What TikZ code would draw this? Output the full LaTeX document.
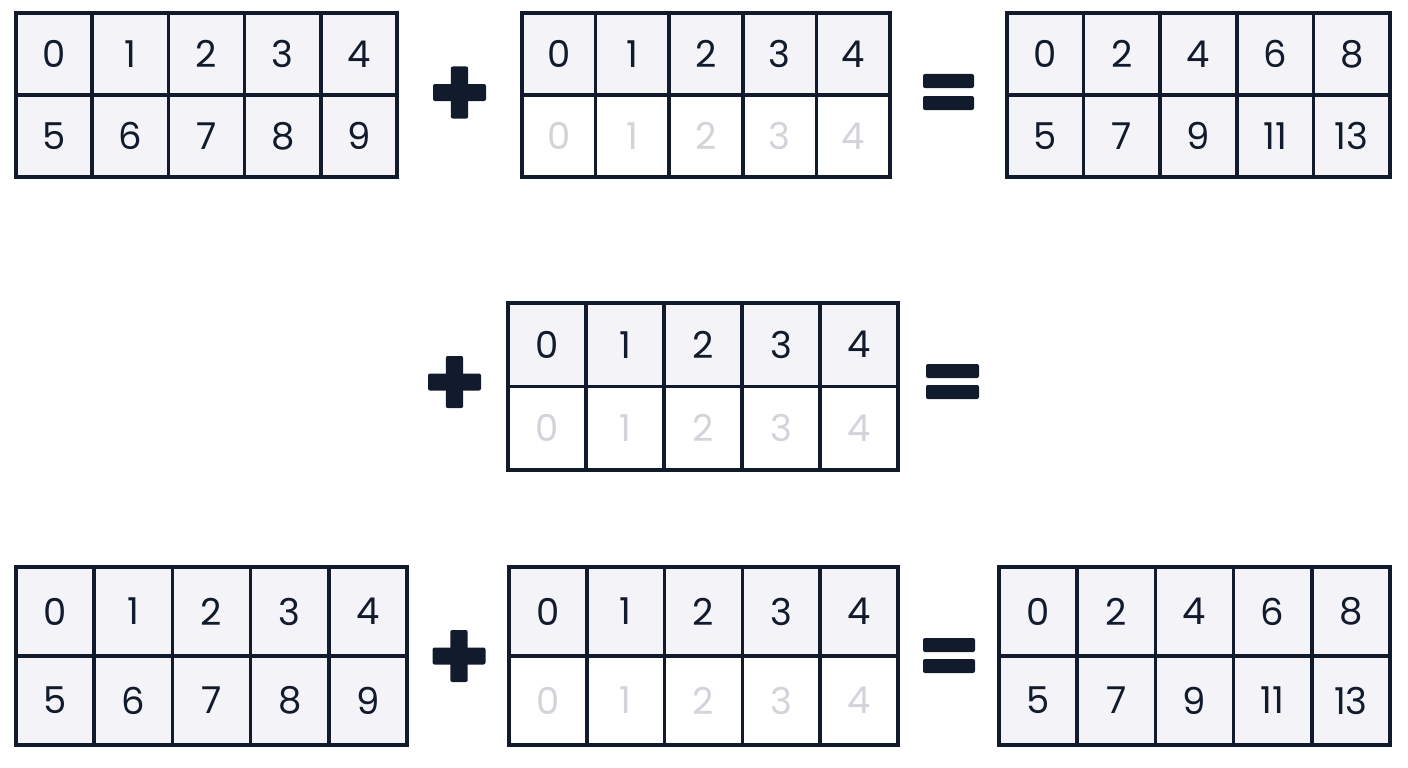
\documentclass[tikz,border=0pt]{standalone}
\usepackage{fontspec}
\setmainfont{Poppins}
\definecolor{inkcol}{HTML}{111B2B}
\definecolor{cellfill}{HTML}{F3F3F8}
\definecolor{faintcol}{HTML}{D3D3DA}
\tikzset{
  gridline/.style={draw=inkcol, line width=3.6pt, line join=miter},
  digit/.style={inner sep=0pt, font=\fontsize{37}{40}\selectfont},
  opfill/.style={fill=inkcol, rounded corners=2pt},
}
\newcommand{\numgrid}[9]{%
  \pgfmathsetmacro{\cw}{(#4-#2)/5}%
  \pgfmathsetmacro{\ym}{(#3+#5)/2}%
  \pgfmathsetmacro{\yt}{(#3+\ym)/2}%
  \pgfmathsetmacro{\yb}{(#5+\ym)/2}%
  \fill[cellfill] (#2,#3) rectangle (#4,\ym);
  \fill[#8] (#2,\ym) rectangle (#4,#5);
  \foreach \v [count=\i from 0] in {#6} {
    \node[digit, text=inkcol] (#1-t\i) at ({#2+(\i+0.5)*\cw},\yt) {\v};
  }
  \foreach \v [count=\i from 0] in {#7} {
    \node[digit, text=#9] (#1-b\i) at ({#2+(\i+0.5)*\cw},\yb) {\v};
  }
  \draw[gridline] (#2,\ym) -- (#4,\ym);
  \foreach \k in {1,...,4} {
    \draw[gridline] ({#2+\k*\cw},#3) -- ({#2+\k*\cw},#5);
  }
  \draw[gridline] (#2,#3) rectangle (#4,#5);
}
\newcommand{\plussign}[3]{%
  \coordinate (#1) at (#2,#3);
  \fill[opfill] ({#2-26.5},{#3-8.5}) rectangle ({#2+26.5},{#3+8.5});
  \fill[opfill] ({#2-8.7},{#3-26}) rectangle ({#2+8.7},{#3+26});
}
\newcommand{\equalsign}[5]{% name x0 x1 ytop-of-upper ytop-of-lower
  \coordinate (#1) at ({(#2+#3)/2},#4);
  \fill[opfill] (#2,#4) rectangle (#3,{#4+14});
  \fill[opfill] (#2,#5) rectangle (#3,{#5+14});
}
\begin{document}
\begin{tikzpicture}[x=1pt,y=-1pt]
\useasboundingbox (0,0) rectangle (1408,768);
\fill[white] (0,0) rectangle (1408,768);
% top row
\numgrid{A}{16}{13}{397}{177}{0,1,2,3,4}{5,6,7,8,9}{cellfill}{inkcol}
\plussign{plusA}{459.5}{92.5}
\numgrid{B}{522}{13}{890}{177}{0,1,2,3,4}{0,1,2,3,4}{white}{faintcol}
\equalsign{eqA}{923}{974}{74}{96}
\numgrid{C}{1007}{13}{1390}{177}{0,2,4,6,8}{5,7,9,11,13}{cellfill}{inkcol}
% middle row
\plussign{plusB}{454.5}{382}
\numgrid{D}{508}{303}{898}{470}{0,1,2,3,4}{0,1,2,3,4}{white}{faintcol}
\equalsign{eqB}{926}{979}{364}{385}
% bottom row
\numgrid{E}{16}{567}{407}{745}{0,1,2,3,4}{5,6,7,8,9}{cellfill}{inkcol}
\plussign{plusC}{459}{656}
\numgrid{F}{509}{567}{898}{745}{0,1,2,3,4}{0,1,2,3,4}{white}{faintcol}
\equalsign{eqC}{923}{975}{638}{659}
\numgrid{G}{999}{567}{1390}{745}{0,2,4,6,8}{5,7,9,11,13}{cellfill}{inkcol}
\end{tikzpicture}
\end{document}
